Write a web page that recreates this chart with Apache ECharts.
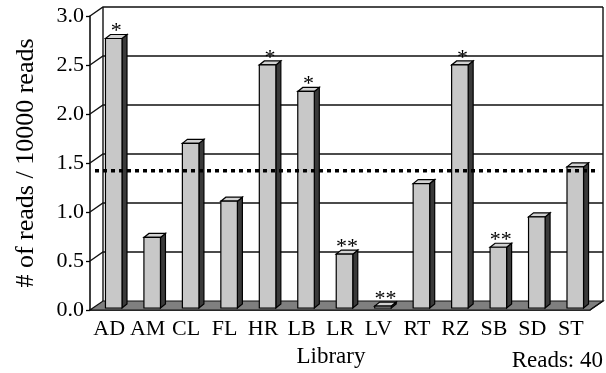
<!DOCTYPE html>
<html><head><meta charset="utf-8">
<script src="https://cdn.jsdelivr.net/npm/echarts@6/dist/echarts.min.js"></script>
<style>html,body{margin:0;padding:0;background:#fff}#c{width:606px;height:373px}</style>
</head><body><div id="c"></div>
<script>
const categories = ['AD','AM','CL','FL','HR','LB','LR','LV','RT','RZ','SB','SD','ST'];
const values = [2.75,0.72,1.68,1.09,2.48,2.21,0.55,0.02,1.27,2.48,0.62,0.93,1.44];
const marks = ['*','','','','*','*','**','**','','*','**','',''];
const yTicks = [0.5,1.0,1.5,2.0,2.5,3.0];
const threshold = 1.4;
const xTitle = 'Library';
const yTitle = '# of reads / 10000 reads';
const footnote = 'Reads: 40';

const FONT = '"Liberation Serif", "Times New Roman", serif';
const DX = 13, DY = -9;      // wall depth offset (px)
const BDX = 5, BDY = -4;     // bar depth (px)
const PLANE = -2;            // bar plane vertical shift (px)

const chart = echarts.init(document.getElementById('c'), null, {renderer:'canvas'});

function wallItem(params, api) {
  const cs = params.coordSys;
  const x0 = cs.x, x1 = cs.x + cs.width;
  const y0 = api.coord([0, 0])[1];
  const yT = api.coord([0, yTicks[yTicks.length-1]])[1];
  const ls = {stroke:'#111', lineWidth:1.4, fill:null};
  const ch = [];
  ch.push({type:'polygon', shape:{points:[[x0,y0],[x1,y0],[x1+DX,y0+DY],[x0+DX,y0+DY]]},
           style:{fill:'#7f7f7f', stroke:'#111', lineWidth:1.2}});
  yTicks.forEach(v => {
    const y = api.coord([0, v])[1];
    ch.push({type:'polyline', shape:{points:[[x0,y],[x0+DX,y+DY],[x1+DX,y+DY]]}, style:ls});
  });
  ch.push({type:'line', shape:{x1:x0+DX, y1:y0+DY, x2:x0+DX, y2:yT+DY}, style:ls});
  ch.push({type:'polyline', shape:{points:[[x1+DX,yT+DY],[x1+DX,y0+DY],[x1,y0]]}, style:ls});
  return {type:'group', children:ch};
}

function barItem(params, api) {
  const i = api.value(0), v = api.value(1);
  const p = api.coord([i, v]);
  const b = api.coord([i, 0]);
  const cw = api.size([1, 0])[0];
  const fw = cw * 0.43;
  const xl = p[0] - fw/2 + cw*0.117, xr = xl + fw;
  const yt = p[1] + PLANE, yb = b[1] + PLANE;
  const st = {stroke:'#000', lineWidth:1.2};
  const ch = [
    {type:'polygon', shape:{points:[[xr,yt],[xr+BDX,yt+BDY],[xr+BDX,yb+BDY],[xr,yb]]},
     style:Object.assign({fill:'#3a3a3a'}, st)},
    {type:'polygon', shape:{points:[[xl,yt],[xr,yt],[xr+BDX,yt+BDY],[xl+BDX,yt+BDY]]},
     style:Object.assign({fill:'#d2d2d2'}, st)},
    {type:'rect', shape:{x:xl, y:yt, width:fw, height:yb-yt},
     style:Object.assign({fill:'#c8c8c8'}, st)}
  ];
  const m = marks[i];
  if (m) {
    ch.push({type:'text', x:(xl+xr)/2 + BDX/2, y:yt - 7,
      style:{text:m, font:'22px ' + FONT, fill:'#000', align:'center', verticalAlign:'middle'}});
  }
  return {type:'group', children:ch};
}

function threshItem(params, api) {
  const cs = params.coordSys;
  const y = api.coord([0, api.value(1)])[1] + PLANE;
  return {type:'line', shape:{x1:cs.x+5, y1:y, x2:cs.x+cs.width+7, y2:y},
    style:{stroke:'#000', lineWidth:3.5, lineDash:[4,4]}};
}

const option = {
  animation:false,
  backgroundColor:'#fff',
  grid:{left:90, right:16, top:16, bottom:63},
  xAxis:{
    type:'category', data:categories,
    axisLine:{lineStyle:{color:'#000', width:1.5}},
    axisTick:{length:5, lineStyle:{color:'#000', width:1.3}},
    axisLabel:{color:'#000', fontFamily:FONT, fontSize:22, margin:8, interval:0},
    splitLine:{show:false}
  },
  yAxis:{
    type:'value', min:0, max:3, interval:0.5,
    name:yTitle, nameLocation:'middle', nameGap:51, nameRotate:90,
    nameTextStyle:{color:'#000', fontFamily:FONT, fontSize:26},
    axisLine:{show:true, lineStyle:{color:'#000', width:1.5}},
    axisTick:{show:true, length:4, lineStyle:{color:'#000', width:1.3}},
    axisLabel:{color:'#000', fontFamily:FONT, fontSize:22, margin:6,
      formatter: v => v.toFixed(1)},
    splitLine:{show:false}
  },
  graphic:[
    {type:'text', x:331, y:357, style:{text:xTitle, font:'23px ' + FONT, fill:'#000', align:'center', verticalAlign:'middle'}},
    {type:'text', x:603, y:361, style:{text:footnote, font:'23px ' + FONT, fill:'#000', align:'right', verticalAlign:'middle'}}
  ],
  series:[
    {type:'custom', renderItem:wallItem, data:[[0,0]], z:1, clip:false, silent:true},
    {type:'custom', renderItem:barItem, data:values.map((v,i)=>[i,v]), z:2, clip:false},
    {type:'custom', renderItem:threshItem, data:[[0,threshold]], z:3, clip:false, silent:true}
  ]
};
chart.setOption(option);
</script></body></html>
